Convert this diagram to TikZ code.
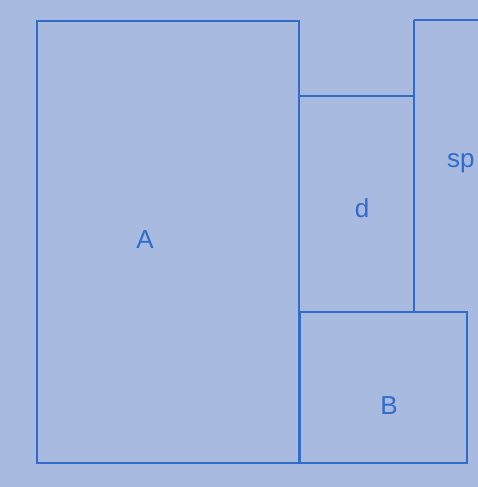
\documentclass[tikz,border=0pt]{standalone}
\usepackage{fontspec}
\setmainfont{Liberation Sans}
\definecolor{paper}{RGB}{168,186,224}
\definecolor{ink}{RGB}{48,108,200}
\begin{document}
\begin{tikzpicture}[x=1pt,y=-1pt,
  room/.style={draw=ink,line width=2.8pt},
  lbl/.style={text=ink,font=\fontsize{26}{29}\selectfont,inner sep=0pt}]
\fill[paper] (0,0) rectangle (478,487);
\useasboundingbox (0,0) rectangle (478,487);
\begin{scope}
\clip (0,0) rectangle (478,487);
\draw[room] (37,21) rectangle (299,463);
\draw[room] (299,96) rectangle (414,312);
\draw[room] (414,20) -- (490,20);
\draw[room] (414,20) -- (414,312);
\draw[room] (300,312) rectangle (467,463);
\node[lbl] (A) at (145,240) {A};
\node[lbl] (d) at (362,208) {d};
\node[lbl] (B) at (389,406) {B};
\node[lbl,anchor=west] (sp) at (447,163) {sp};
\end{scope}
\end{tikzpicture}
\end{document}
